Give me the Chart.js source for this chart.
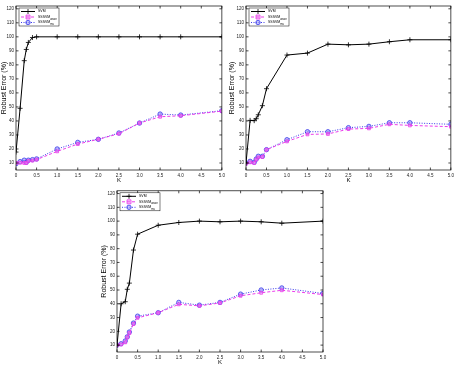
<!DOCTYPE html>
<html>
<head>
<meta charset="utf-8">
<script src="https://cdn.jsdelivr.net/npm/chart.js@4.4.1/dist/chart.umd.min.js"></script>
<style>
  body { margin: 0; background: #fff; width: 457px; height: 367px; position: relative; overflow: hidden; }
  canvas { position: absolute; }
</style>
</head>
<body>
<canvas id="chartA" width="228" height="186" style="left:0;top:0"></canvas>
<canvas id="chartB" width="229" height="186" style="left:228px;top:0"></canvas>
<canvas id="chartC" width="240" height="181" style="left:100px;top:186px"></canvas>
<script>
// valores de K (eixo x) e marcas dos eixos
const kValues = [0, 0.1, 0.2, 0.25, 0.3, 0.4, 0.5, 1, 1.5, 2, 2.5, 3, 3.5, 4, 5];
const xTicks = [0, 0.5, 1, 1.5, 2, 2.5, 3, 3.5, 4, 4.5, 5];
const yTicks = [10, 20, 30, 40, 50, 60, 70, 80, 90, 100, 110, 120];
const legendNames = [['SVM', ''], ['SSSVM', 'wave'], ['SSSVM', 'ms']];

// gráfico superior esquerdo
const svmA  = [17.8, 49, 83, 91, 96, 99.5, 100, 100, 100, 100, 100, 100, 100, 100, 100];
const waveA = [10, 10.2, 10, 10, 11.4, 11.7, 12.4, 18.3, 23.5, 26.9, 30.9, 38.5, 43, 43.7, 47];
const msA   = [9.5, 11, 12, 10.5, 12, 12.4, 12.9, 20, 24.7, 26.9, 31.4, 38.5, 44.9, 44.2, 47.3];

// gráfico superior direito
const svmB  = [10, 40.4, 40.2, 41.6, 44.4, 50.9, 63, 87, 88.4, 94.8, 94.3, 94.8, 96.5, 97.9, 97.9];
const waveB = [9.5, 10.5, 10, 12.4, 14, 14.3, 19.5, 25.4, 30.4, 30.7, 34.2, 34.7, 37.6, 36.8, 35.9];
const msB   = [10, 11.2, 10.5, 12.8, 14.8, 14.8, 19.5, 26.6, 32.3, 32.3, 35.2, 36.1, 38.7, 38.7, 37.6];

// gráfico inferior
const svmC  = [10, 40, 41.5, 50.5, 55, 79, 90.5, 97, 99, 100, 99.5, 100, 99.5, 98.5, 100];
const waveC = [10, 10.5, 12, 15.6, 18.7, 25.3, 29.8, 33.5, 39.6, 38.5, 40.6, 45.8, 48, 49.8, 46.7];
const msC   = [10, 11, 13, 16, 19.5, 26, 31, 33.5, 41, 39, 41, 47, 50, 51.5, 47.5];

const FONT = 'Liberation Sans, Arial, sans-serif';
const MAGENTA = 'rgb(235,60,235)';
const BLUE = 'rgb(60,60,235)';

function drawMarker(ctx, style, x, y, color, fill) {
    ctx.save();
    ctx.strokeStyle = color;
    ctx.fillStyle = fill;
    ctx.setLineDash([]);
    ctx.lineWidth = 0.8;
    ctx.beginPath();
    if (style === 'cross') {
        ctx.moveTo(x - 2.5, y); ctx.lineTo(x + 2.5, y);
        ctx.moveTo(x, y - 2.5); ctx.lineTo(x, y + 2.5);
        ctx.stroke();
    } else if (style === 'rect') {
        ctx.rect(x - 2, y - 2, 4, 4);
        ctx.fill(); ctx.stroke();
    } else {
        ctx.arc(x, y, 2.2, 0, Math.PI * 2);
        ctx.fill(); ctx.stroke();
    }
    ctx.restore();
}

// moldura com marcas para dentro (estilo MATLAB) e legenda
const framePlugin = {
    id: 'frame',
    afterDraw(chart) {
        const { ctx, chartArea: a, scales: { x, y } } = chart;
        ctx.save();
        ctx.strokeStyle = '#000';
        ctx.lineWidth = 0.7;
        ctx.strokeRect(a.left, a.top, a.right - a.left, a.bottom - a.top);
        ctx.beginPath();
        x.ticks.forEach(t => {
            const px = x.getPixelForValue(t.value);
            ctx.moveTo(px, a.bottom); ctx.lineTo(px, a.bottom - 2.5);
            ctx.moveTo(px, a.top); ctx.lineTo(px, a.top + 2.5);
        });
        y.ticks.forEach(t => {
            const py = y.getPixelForValue(t.value);
            ctx.moveTo(a.left, py); ctx.lineTo(a.left + 2.5, py);
            ctx.moveTo(a.right, py); ctx.lineTo(a.right - 2.5, py);
        });
        ctx.stroke();

        // legenda
        const lx = a.left + 3, ly = a.top + 2, lw = 40, lh = 18;
        ctx.fillStyle = '#fff';
        ctx.fillRect(lx, ly, lw, lh);
        ctx.lineWidth = 0.5;
        ctx.strokeRect(lx, ly, lw, lh);
        chart.data.datasets.forEach((ds, i) => {
            const yy = ly + 3.5 + i * 5.5;
            ctx.save();
            ctx.strokeStyle = ds.borderColor;
            ctx.lineWidth = ds.borderWidth;
            ctx.setLineDash(ds.borderDash || []);
            ctx.beginPath();
            ctx.moveTo(lx + 2, yy); ctx.lineTo(lx + 16, yy);
            ctx.stroke();
            ctx.restore();
            drawMarker(ctx, ds.pointStyle, lx + 9, yy, ds.borderColor, ds.pointBackgroundColor);
            ctx.fillStyle = '#000';
            ctx.textBaseline = 'middle';
            ctx.font = '3.5px ' + FONT;
            const [main, sub] = legendNames[i];
            ctx.fillText(main, lx + 19, yy);
            if (sub) {
                const w = ctx.measureText(main).width;
                ctx.font = '2.8px ' + FONT;
                ctx.fillText(sub, lx + 19 + w, yy + 1.8);
            }
        });
        ctx.restore();
    }
};

const hiddenGrid = { display: true, drawOnChartArea: false, drawTicks: false, tickLength: 0, color: 'transparent' };

function makeChart(id, svm, wave, ms, pad, yWidth) {
    const ctx = document.getElementById(id).getContext('2d');
    return new Chart(ctx, {
        type: 'line',
        data: {
            labels: kValues,
            datasets: [{
                label: 'SVM',
                data: kValues.map((k, i) => ({ x: k, y: svm[i] })),
                borderColor: '#000',
                borderWidth: 1,
                pointStyle: 'cross',
                pointRadius: 2.5,
                pointBorderColor: '#000',
                pointBackgroundColor: '#000',
                pointBorderWidth: 0.8
            }, {
                label: 'SSSVM wave',
                data: kValues.map((k, i) => ({ x: k, y: wave[i] })),
                borderColor: MAGENTA,
                borderWidth: 1,
                borderDash: [3, 2],
                pointStyle: 'rect',
                pointRadius: 2,
                pointBorderColor: MAGENTA,
                pointBackgroundColor: 'rgba(235,120,235,0.45)',
                pointBorderWidth: 0.8
            }, {
                label: 'SSSVM ms',
                data: kValues.map((k, i) => ({ x: k, y: ms[i] })),
                borderColor: BLUE,
                borderWidth: 1,
                borderDash: [1, 1.5],
                pointStyle: 'circle',
                pointRadius: 2.2,
                pointBorderColor: BLUE,
                pointBackgroundColor: 'rgba(130,130,245,0.5)',
                pointBorderWidth: 0.8
            }]
        },
        options: {
            responsive: false,
            animation: false,
            layout: { padding: pad },
            plugins: { legend: { display: false }, tooltip: { enabled: false } },
            scales: {
                x: {
                    type: 'linear',
                    min: 0,
                    max: 5,
                    afterBuildTicks: s => { s.ticks = xTicks.map(v => ({ value: v })); },
                    afterFit: s => { s.height = 14; },
                    grid: hiddenGrid,
                    border: { display: false },
                    ticks: { color: '#222', font: { family: FONT, size: 4.5 }, padding: 3, maxRotation: 0 },
                    title: { display: true, text: 'K', color: '#000', font: { family: FONT, size: 6 }, padding: 0 }
                },
                y: {
                    min: 5,
                    max: 122,
                    afterBuildTicks: s => { s.ticks = yTicks.map(v => ({ value: v })); },
                    afterFit: s => { s.width = yWidth; },
                    grid: hiddenGrid,
                    border: { display: false },
                    ticks: { color: '#222', font: { family: FONT, size: 4.5 }, padding: 2 },
                    title: { display: true, text: 'Robust Error (%)', color: '#000', font: { family: FONT, size: 7 }, padding: 0 }
                }
            }
        },
        plugins: [framePlugin]
    });
}

makeChart('chartA', svmA, waveA, msA, { left: 0, top: 6, right: 6, bottom: 2 }, 16);
makeChart('chartB', svmB, waveB, msB, { left: 0, top: 6, right: 5, bottom: 2 }, 18);
makeChart('chartC', svmC, waveC, msC, { left: 0, top: 2, right: 17, bottom: 1 }, 17);
</script>
</body>
</html>
